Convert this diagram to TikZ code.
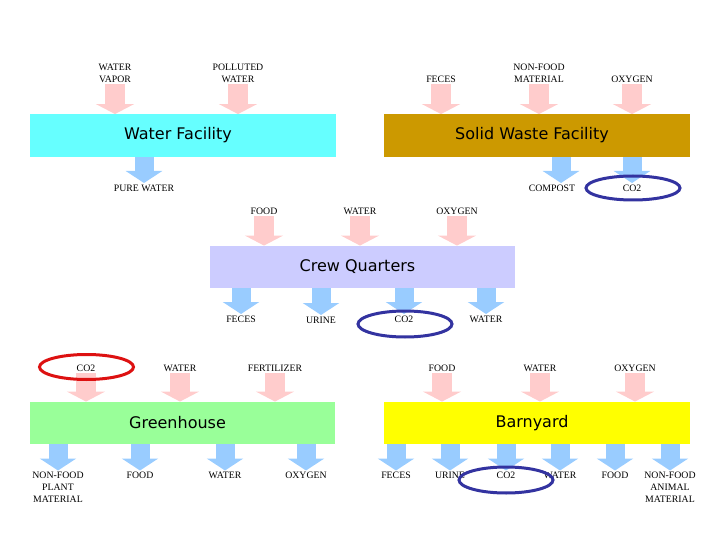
\documentclass[tikz,border=0pt]{standalone}
\usepackage{fontspec}
\setmainfont{Liberation Serif}
\newfontfamily\boxfont{DejaVu Sans}
\usetikzlibrary{arrows.meta,shapes.geometric}
\definecolor{waterbox}{RGB}{102,255,255}
\definecolor{wastebox}{RGB}{204,153,0}
\definecolor{crewbox}{RGB}{204,204,255}
\definecolor{greenbox}{RGB}{153,255,153}
\definecolor{barnbox}{RGB}{255,255,0}
\definecolor{inpink}{RGB}{255,204,204}
\definecolor{outblue}{RGB}{153,204,255}
\definecolor{ringblue}{RGB}{51,51,160}
\definecolor{ringred}{RGB}{221,17,17}

\begin{document}
\begin{tikzpicture}[x=1pt,y=-1pt,
  facility/.style={rectangle,minimum height=42.5pt,inner sep=0pt,
    font=\boxfont\fontsize{16}{18}\selectfont},
  tag/.style={align=center,inner sep=1.5pt,font=\fontsize{9.8}{12}\selectfont},
  inflow/.style={inpink,line width=20pt,-{Triangle[width=38pt,length=10pt]}},
  outflow/.style={outblue,line width=19pt,-{Triangle[width=36pt,length=12pt]}},
  ring/.style={ellipse,draw,line width=3pt,minimum width=94pt,inner sep=0pt}]
  \useasboundingbox (0,0) rectangle (720,540);

  % water facility
  \node[facility,fill=waterbox,minimum width=306pt] (water) at (183,135.5) {Water Facility\hspace*{10pt}};
  \node[tag,anchor=south] (wvapor) at (115,84) {WATER\\VAPOR};
  \node[tag,anchor=south] (polluted) at (238,84) {POLLUTED\\WATER};
  \node[tag,anchor=north] (pure) at (144,183) {PURE WATER};
  \draw[inflow] (wvapor.south) -- (wvapor.south |- water.north);
  \draw[inflow] (polluted.south) -- (polluted.south |- water.north);
  \draw[outflow] (pure.north |- water.south) -- (pure.north);

  % solid waste facility
  \node[facility,fill=wastebox,minimum width=306pt] (waste) at (537,135.5) {Solid Waste Facility\hspace*{10pt}};
  \node[tag,anchor=south] (feces1) at (441,84) {FECES};
  \node[tag,anchor=south] (nonfood1) at (539,84) {NON-FOOD\\MATERIAL};
  \node[tag,anchor=south] (oxygen1) at (632,84) {OXYGEN};
  \node[tag,anchor=north] (compost) at (552,183) {COMPOST};
  \node[tag,anchor=north] (co2a) at (632,183) {CO2};
  \draw[inflow] (feces1.south) -- (feces1.south |- waste.north);
  \draw[inflow] (nonfood1.south) -- (nonfood1.south |- waste.north);
  \draw[inflow] (oxygen1.south) -- (oxygen1.south |- waste.north);
  \draw[outflow] ([xshift=9pt]compost.north |- waste.south) -- ([xshift=9pt]compost.north);
  \draw[outflow] (co2a.north |- waste.south) -- (co2a.north);

  % crew quarters
  \node[facility,fill=crewbox,minimum width=305pt] (crew) at (362.5,267) {Crew Quarters\hspace*{10pt}};
  \node[tag,anchor=south] (food1) at (264,216) {FOOD};
  \node[tag,anchor=south] (water1) at (360,216) {WATER};
  \node[tag,anchor=south] (oxygen2) at (457,216) {OXYGEN};
  \node[tag,anchor=north] (feces2) at (241,314) {FECES};
  \node[tag,anchor=north] (urine1) at (321,315) {URINE};
  \node[tag,anchor=north] (co2b) at (404,314) {CO2};
  \node[tag,anchor=north] (water2) at (486,314) {WATER};
  \draw[inflow] (food1.south) -- (food1.south |- crew.north);
  \draw[inflow] (water1.south) -- (water1.south |- crew.north);
  \draw[inflow] (oxygen2.south) -- (oxygen2.south |- crew.north);
  \draw[outflow] (feces2.north |- crew.south) -- (feces2.north);
  \draw[outflow] (urine1.north |- crew.south) -- (urine1.north);
  \draw[outflow] (co2b.north |- crew.south) -- (co2b.north);
  \draw[outflow] (water2.north |- crew.south) -- (water2.north);

  % greenhouse
  \node[facility,fill=greenbox,minimum width=305pt] (green) at (182.5,423) {Greenhouse\hspace*{10pt}};
  \node[tag,anchor=south] (co2c) at (86,373) {CO2};
  \node[tag,anchor=south] (water3) at (180,373) {WATER};
  \node[tag,anchor=south] (fert) at (275,373) {FERTILIZER};
  \node[tag,anchor=north] (nfplant) at (58,470.5) {NON-FOOD\\PLANT\\MATERIAL};
  \node[tag,anchor=north] (food2) at (140,470.5) {FOOD};
  \node[tag,anchor=north] (water4) at (225,470.5) {WATER};
  \node[tag,anchor=north] (oxygen3) at (306,470.5) {OXYGEN};
  \draw[inflow] (co2c.south) -- (co2c.south |- green.north);
  \draw[inflow] (water3.south) -- (water3.south |- green.north);
  \draw[inflow] (fert.south) -- (fert.south |- green.north);
  \draw[outflow] (nfplant.north |- green.south) -- (nfplant.north);
  \draw[outflow] (food2.north |- green.south) -- (food2.north);
  \draw[outflow] (water4.north |- green.south) -- (water4.north);
  \draw[outflow] (oxygen3.north |- green.south) -- (oxygen3.north);

  % barnyard
  \node[facility,fill=barnbox,minimum width=306pt] (barn) at (537,423) {Barnyard\hspace*{10pt}};
  \node[tag,anchor=south] (food3) at (442,373) {FOOD};
  \node[tag,anchor=south] (water5) at (540,373) {WATER};
  \node[tag,anchor=south] (oxygen4) at (635,373) {OXYGEN};
  \node[tag,anchor=north] (feces3) at (396,470.5) {FECES};
  \node[tag,anchor=north] (urine2) at (450,470.5) {URINE};
  \node[tag,anchor=north] (co2d) at (506,470.5) {CO2};
  \node[tag,anchor=north] (water6) at (560,470.5) {WATER};
  \node[tag,anchor=north] (food4) at (615,470.5) {FOOD};
  \node[tag,anchor=north] (nfanimal) at (670,470.5) {NON-FOOD\\ANIMAL\\MATERIAL};
  \draw[inflow] (food3.south) -- (food3.south |- barn.north);
  \draw[inflow] (water5.south) -- (water5.south |- barn.north);
  \draw[inflow] (oxygen4.south) -- (oxygen4.south |- barn.north);
  \draw[outflow] (feces3.north |- barn.south) -- (feces3.north);
  \draw[outflow] (urine2.north |- barn.south) -- (urine2.north);
  \draw[outflow] (co2d.north |- barn.south) -- (co2d.north);
  \draw[outflow] (water6.north |- barn.south) -- (water6.north);
  \draw[outflow] (food4.north |- barn.south) -- (food4.north);
  \draw[outflow] (nfanimal.north |- barn.south) -- (nfanimal.north);

  % CO2 rings
  \node[ring,draw=ringblue,minimum height=24pt] (ringa) at (633,188) {};
  \node[ring,draw=ringblue,minimum height=26pt] (ringb) at (405,324) {};
  \node[ring,draw=ringred,minimum height=25pt] (ringc) at (86.5,367) {};
  \node[ring,draw=ringblue,minimum height=26pt] (ringd) at (506,480) {};
\end{tikzpicture}
\end{document}
